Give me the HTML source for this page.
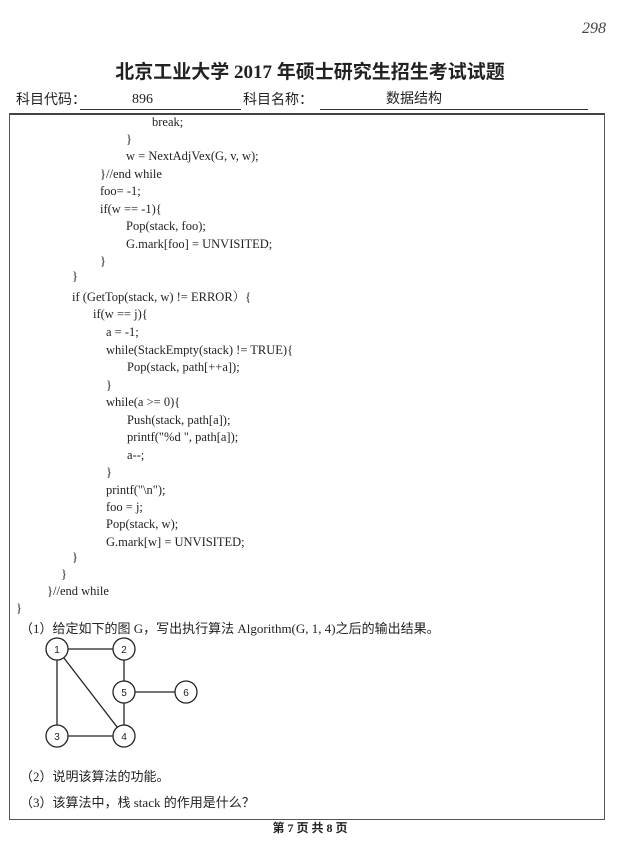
<!DOCTYPE html>
<html><head><meta charset="utf-8"><style>
body{margin:0;width:620px;height:851px;background:#fff;position:relative;overflow:hidden;font-family:"Liberation Serif","Noto Serif CJK SC",serif;color:#222}
.t{position:absolute;white-space:pre;font-size:12.5px;line-height:14px}
.c{font-family:"Liberation Serif","Noto Sans CJK SC",serif;font-size:13px}
</style></head><body>
<div class="t" style="left:582px;top:22px;font-size:16px;font-style:italic;color:#444">298</div>
<div class="t" style="left:0;width:620px;text-align:center;top:62px;font-size:19px;line-height:22px;font-weight:bold;font-family:'Liberation Serif','Noto Sans CJK SC',serif">北京工业大学 2017 年硕士研究生招生考试试题</div>
<div class="t c" style="left:16px;top:94px;font-size:14px">科目代码：</div>
<div style="position:absolute;left:80px;top:109px;width:161px;border-top:1px solid #333"></div>
<div class="t" style="left:132px;top:93px;font-size:14px">896</div>
<div class="t c" style="left:243px;top:94px;font-size:14px">科目名称：</div>
<div style="position:absolute;left:320px;top:109px;width:268px;border-top:1px solid #333"></div>
<div class="t c" style="left:386px;top:93px;font-size:14px">数据结构</div>
<div style="position:absolute;left:9px;top:113px;width:594px;height:704px;border:1px solid #555;border-top:2px solid #444"></div>
<div class="t" style="left:152px;top:115px">break;</div>
<div class="t" style="left:126px;top:132px">}</div>
<div class="t" style="left:126px;top:149px">w = NextAdjVex(G, v, w);</div>
<div class="t" style="left:100px;top:167px">}//end while</div>
<div class="t" style="left:100px;top:184px">foo= -1;</div>
<div class="t" style="left:100px;top:202px">if(w == -1){</div>
<div class="t" style="left:126px;top:219px">Pop(stack, foo);</div>
<div class="t" style="left:126px;top:237px">G.mark[foo] = UNVISITED;</div>
<div class="t" style="left:100px;top:254px">}</div>
<div class="t" style="left:72px;top:269px">}</div>
<div class="t" style="left:72px;top:290px">if (GetTop(stack, w) != ERROR）{</div>
<div class="t" style="left:93px;top:307px">if(w == j){</div>
<div class="t" style="left:106px;top:325px">a = -1;</div>
<div class="t" style="left:106px;top:343px">while(StackEmpty(stack) != TRUE){</div>
<div class="t" style="left:127px;top:360px">Pop(stack, path[++a]);</div>
<div class="t" style="left:106px;top:378px">}</div>
<div class="t" style="left:106px;top:395px">while(a &gt;= 0){</div>
<div class="t" style="left:127px;top:413px">Push(stack, path[a]);</div>
<div class="t" style="left:127px;top:430px">printf("%d ", path[a]);</div>
<div class="t" style="left:127px;top:448px">a--;</div>
<div class="t" style="left:106px;top:465px">}</div>
<div class="t" style="left:106px;top:483px">printf("\n");</div>
<div class="t" style="left:106px;top:500px">foo = j;</div>
<div class="t" style="left:106px;top:517px">Pop(stack, w);</div>
<div class="t" style="left:106px;top:535px">G.mark[w] = UNVISITED;</div>
<div class="t" style="left:72px;top:550px">}</div>
<div class="t" style="left:61px;top:567px">}</div>
<div class="t" style="left:47px;top:584px">}//end while</div>
<div class="t" style="left:16px;top:601px">}</div>
<div class="t c" style="left:20px;top:622px">（1）给定如下的图 G，写出执行算法 Algorithm(G, 1, 4)之后的输出结果。</div>
<svg style="position:absolute;left:0;top:0" width="620" height="851">
<g stroke="#222" stroke-width="1.3" fill="none">
<line x1="57" y1="649" x2="124" y2="649"/><line x1="57" y1="649" x2="57" y2="736"/>
<line x1="57" y1="649" x2="124" y2="736"/><line x1="124" y1="649" x2="124" y2="736"/>
<line x1="124" y1="692" x2="186" y2="692"/><line x1="57" y1="736" x2="124" y2="736"/>
</g>
<g stroke="#222" stroke-width="1.3" fill="#fff">
<circle cx="57" cy="649" r="11"/><circle cx="124" cy="649" r="11"/><circle cx="124" cy="692" r="11"/>
<circle cx="186" cy="692" r="11"/><circle cx="57" cy="736" r="11"/><circle cx="124" cy="736" r="11"/>
</g>
<g font-family="Liberation Sans,sans-serif" font-size="10" text-anchor="middle" fill="#222">
<text x="57" y="653">1</text><text x="124" y="653">2</text><text x="124" y="696">5</text>
<text x="186" y="696">6</text><text x="57" y="740">3</text><text x="124" y="740">4</text>
</g></svg>
<div class="t c" style="left:20px;top:770px">（2）说明该算法的功能。</div>
<div class="t c" style="left:20px;top:796px">（3）该算法中，栈 stack 的作用是什么？</div>
<div class="t c" style="left:0;width:620px;text-align:center;top:821px;font-weight:bold;font-size:12px">第 7 页 共 8 页</div>
</body></html>
